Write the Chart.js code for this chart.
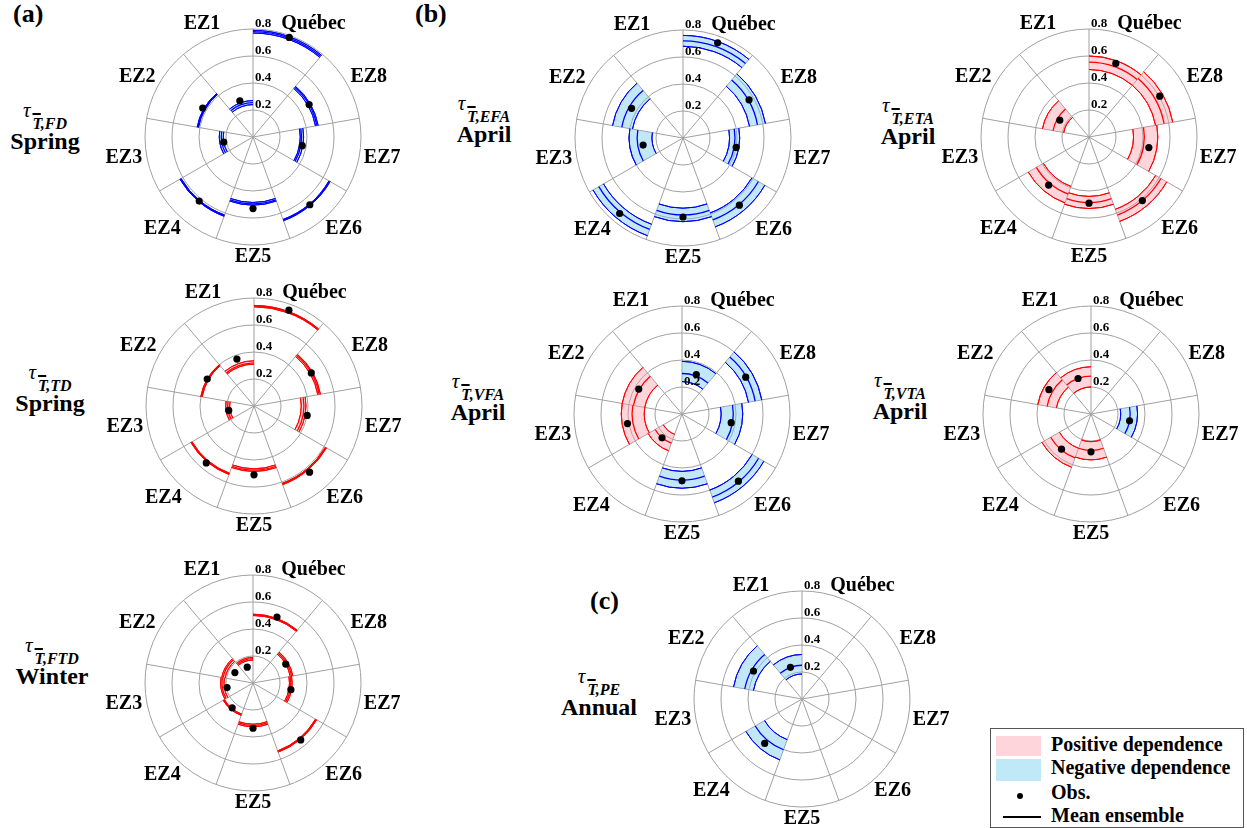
<!DOCTYPE html>
<html>
<head>
<meta charset="utf-8">
<script src="https://cdn.jsdelivr.net/npm/chart.js@4.4.1/dist/chart.umd.min.js"></script>
<style>
  body { margin: 0; background: #fff; width: 1247px; height: 828px; position: relative; overflow: hidden;
         font-family: 'Liberation Serif', 'Times New Roman', serif; color: #000; }
  canvas { position: absolute; }
  .tag { position: absolute; font-size: 26px; line-height: 26px; font-weight: bold; }
  .ttl { position: absolute; transform: translateX(-50%); text-align: center; white-space: nowrap; }
  .l1 { font-size: 20px; line-height: 24px; height: 24px; }
  .tau { font-style: italic; font-size: 21px; line-height: 0; vertical-align: 6px; }
  .sub { font-weight: bold; font-style: italic; font-size: 16px; line-height: 0; vertical-align: -6px; margin-left: 2px; }
  .ov { text-decoration: overline; text-decoration-thickness: 1.5px; }
  .l2 { font-size: 24px; font-weight: bold; line-height: 26px; }
  #legend { position: absolute; left: 990px; top: 728px; width: 252px; height: 98px; border: 1px solid #555; }
  #legend div { position: absolute; }
  #legend .txt { left: 60px; font-size: 20px; line-height: 20px; font-weight: bold; white-space: nowrap; }
</style>
</head>
<body>
<div class="tag" style="left:13px;top:1px">(a)</div>
<div class="tag" style="left:415px;top:1px">(b)</div>
<div class="tag" style="left:590px;top:588px">(c)</div>

<div class="ttl" style="left:45px;top:104px"><div class="l1"><span class="tau">τ</span><span class="sub"><span class="ov">T</span>,FD</span></div><div class="l2">Spring</div></div>
<div class="ttl" style="left:50px;top:366px"><div class="l1"><span class="tau">τ</span><span class="sub"><span class="ov">T</span>,TD</span></div><div class="l2">Spring</div></div>
<div class="ttl" style="left:52px;top:639px"><div class="l1"><span class="tau">τ</span><span class="sub"><span class="ov">T</span>,FTD</span></div><div class="l2">Winter</div></div>
<div class="ttl" style="left:484px;top:97px"><div class="l1"><span class="tau">τ</span><span class="sub"><span class="ov">T</span>,EFA</span></div><div class="l2">April</div></div>
<div class="ttl" style="left:908px;top:99px"><div class="l1"><span class="tau">τ</span><span class="sub"><span class="ov">T</span>,ETA</span></div><div class="l2">April</div></div>
<div class="ttl" style="left:478px;top:375px"><div class="l1"><span class="tau">τ</span><span class="sub"><span class="ov">T</span>,VFA</span></div><div class="l2">April</div></div>
<div class="ttl" style="left:900px;top:374px"><div class="l1"><span class="tau">τ</span><span class="sub"><span class="ov">T</span>,VTA</span></div><div class="l2">April</div></div>
<div class="ttl" style="left:599px;top:670px"><div class="l1"><span class="tau">τ</span><span class="sub"><span class="ov">T</span>,PE</span></div><div class="l2">Annual</div></div>

<canvas id="fd" width="320" height="290" style="left:93px;top:-8px"></canvas>
<canvas id="td" width="320" height="290" style="left:94px;top:261px"></canvas>
<canvas id="ftd" width="320" height="290" style="left:93px;top:538px"></canvas>
<canvas id="efa" width="320" height="290" style="left:523px;top:-7px"></canvas>
<canvas id="eta" width="320" height="290" style="left:929px;top:-8px"></canvas>
<canvas id="vfa" width="320" height="290" style="left:522px;top:269px"></canvas>
<canvas id="vta" width="320" height="290" style="left:931px;top:269px"></canvas>
<canvas id="pe" width="320" height="290" style="left:642px;top:554px"></canvas>

<div id="legend">
  <div style="left:5px;top:7px;width:45px;height:20px;background:#ffd5dc"></div>
  <div style="left:5px;top:30px;width:45px;height:22px;background:#c0e9f8"></div>
  <div style="left:26px;top:64px;width:6px;height:6px;border-radius:50%;background:#000"></div>
  <div style="left:12px;top:87px;width:38px;height:2px;background:#000"></div>
  <div class="txt" style="top:5px">Positive dependence</div>
  <div class="txt" style="top:28px">Negative dependence</div>
  <div class="txt" style="top:53px">Obs.</div>
  <div class="txt" style="top:76px">Mean ensemble</div>
</div>

<script>
// sectors, clockwise from the top
const zones = ['Québec', 'EZ8', 'EZ7', 'EZ6', 'EZ5', 'EZ4', 'EZ3', 'EZ2', 'EZ1'];
const tickValues = [0.2, 0.4, 0.6, 0.8];

// Kendall tau, signed (negative = negative dependence); null = not significant
// (a) FD, spring
const fdLow  = [-0.77, -0.47, -0.35, -0.65, -0.485, -0.615, -0.22, -0.41, -0.24];
const fdHigh = [-0.79, -0.49, -0.375, -0.66, -0.505, -0.625, -0.25, -0.42, -0.27];
const fdMean = [-0.78, -0.48, -0.36, -0.655, -0.495, -0.62, -0.235, -0.415, -0.255];
const fdObs  = [-0.785, -0.48, -0.37, -0.655, -0.53, -0.62, -0.22, -0.43, -0.285];
// (a) TD, spring
const tdLow  = [0.735, 0.48, 0.35, 0.61, 0.465, 0.53, 0.18, 0.39, 0.31];
const tdHigh = [0.745, 0.50, 0.385, 0.62, 0.485, 0.54, 0.21, 0.40, 0.335];
const tdMean = [0.74, 0.49, 0.37, 0.615, 0.475, 0.535, 0.195, 0.395, 0.32];
const tdObs  = [0.755, 0.49, 0.40, 0.64, 0.51, 0.55, 0.19, 0.40, 0.37];
// (a) FTD, winter
const ftdLow  = [0.50, 0.28, 0.27, 0.535, 0.305, 0.245, 0.215, 0.21, 0.17];
const ftdHigh = [0.51, 0.30, 0.29, 0.545, 0.325, 0.255, 0.24, 0.235, 0.19];
const ftdMean = [0.505, 0.29, 0.28, 0.54, 0.315, 0.25, 0.23, 0.225, 0.18];
const ftdObs  = [0.52, 0.28, 0.285, 0.55, 0.335, 0.24, 0.195, 0.155, 0.125];
// (b) EFA, April
const efaLow  = [-0.68, -0.50, -0.345, -0.59, -0.52, -0.68, -0.23, -0.38, null];
const efaHigh = [-0.76, -0.62, -0.42, -0.70, -0.62, -0.77, -0.40, -0.53, null];
const efaMean = [-0.72, -0.56, -0.385, -0.645, -0.57, -0.72, -0.34, -0.46, null];
const efaObs  = [-0.75, -0.565, -0.40, -0.65, -0.585, -0.73, -0.30, -0.44, null];
// (b) ETA, April
const etaLow  = [0.50, 0.50, 0.33, 0.57, 0.44, 0.39, null, 0.19, null];
const etaHigh = [0.60, 0.63, 0.51, 0.665, 0.53, 0.52, null, 0.35, null];
const etaMean = [0.555, 0.565, 0.41, 0.615, 0.485, 0.45, null, 0.27, null];
const etaObs  = [0.58, 0.605, 0.45, 0.615, 0.49, 0.465, null, 0.25, null];
// (b) VFA, April
const vfaLow  = [-0.24, -0.50, -0.29, -0.60, -0.425, 0.16, 0.28, 0.28, null];
const vfaHigh = [-0.39, -0.60, -0.45, -0.70, -0.55, 0.29, 0.45, 0.45, null];
const vfaMean = [-0.30, -0.55, -0.38, -0.655, -0.49, 0.23, 0.37, 0.365, null];
const vfaObs  = [-0.31, -0.545, -0.37, -0.65, -0.495, 0.23, 0.41, 0.37, null];
// (b) VTA, April
const vtaLow  = [null, null, -0.22, null, 0.205, 0.27, null, 0.26, 0.20];
const vtaHigh = [null, null, -0.345, null, 0.34, 0.42, null, 0.40, 0.35];
const vtaMean = [null, null, -0.29, null, 0.27, 0.345, null, 0.33, 0.28];
const vtaObs  = [null, null, -0.29, null, 0.28, 0.34, null, 0.36, 0.28];
// (c) PE, annual
const peLow  = [null, null, null, null, null, -0.32, null, -0.365, -0.185];
const peHigh = [null, null, null, null, null, -0.48, null, -0.515, -0.33];
const peMean = [null, null, null, null, null, -0.40, null, -0.43, -0.25];
const peObs  = [null, null, null, null, null, -0.43, null, -0.415, -0.25];

// polar area arcs with an inner radius taken from dataset.inner
class BandController extends Chart.PolarAreaController {
  updateElement(el, i, props, mode) {
    if (i !== undefined && props) {
      const inner = this.getDataset().inner;
      props.innerRadius = this._cachedMeta.rScale.getDistanceFromCenterForValue(inner[i]);
    }
    super.updateElement(el, i, props, mode);
  }
}
BandController.id = 'band';

// radar points moved to the middle of each sector
class ObsController extends Chart.RadarController {
  updateElement(el, i, props, mode) {
    if (i !== undefined && props) {
      const p = this._cachedMeta.rScale.getPointPositionForValue(i + 0.5, this.getParsed(i).r);
      props.x = p.x;
      props.y = p.y;
    }
    super.updateElement(el, i, props, mode);
  }
}
ObsController.id = 'obs';
Chart.register(BandController, ObsController);

// zone names around the circle and radial tick labels
const polarText = {
  id: 'polarText',
  afterDatasetsDraw(chart) {
    const r = chart.scales.r;
    const ctx = chart.ctx;
    ctx.save();
    ctx.fillStyle = '#000';
    ctx.font = 'bold 13px "Liberation Serif"';
    ctx.textAlign = 'left';
    ctx.textBaseline = 'alphabetic';
    tickValues.forEach(v => {
      ctx.fillText(v.toFixed(1), r.xCenter + 2, r.yCenter - r.getDistanceFromCenterForValue(v) - 2);
    });
    ctx.font = 'bold 20px "Liberation Serif"';
    ctx.textAlign = 'center';
    ctx.textBaseline = 'middle';
    zones.forEach((z, i) => {
      const p = r.getPointPosition(i + 0.5, r.drawingArea + 4.5);
      const a = p.angle + Math.PI / 2;
      const s = Math.sin(a), c = Math.cos(a);
      const w = ctx.measureText(z).width;
      const f = Math.min(1, Math.abs(s) * 2);
      ctx.fillText(z, p.x + Math.sign(s) * f * w / 2, p.y - c * 7.5);
    });
    ctx.restore();
  }
};

const POS_FILL = 'rgba(255,150,168,0.4)';
const NEG_FILL = 'rgba(110,200,238,0.42)';
const POS_LINE = '#ff0000';
const NEG_LINE = '#0000ff';

const abs = arr => arr.map(v => v == null ? null : Math.abs(v));
const signColors = (mean, pos, neg) => mean.map(v => v == null ? 'rgba(0,0,0,0)' : (v > 0 ? pos : neg));

function drawPanel(id, low, high, mean, obs) {
  const lo = abs(low), hi = abs(high);
  const inner = lo.map((v, i) => v == null ? null : Math.min(v, hi[i]));
  const outer = lo.map((v, i) => v == null ? null : Math.max(v, hi[i]));
  const lineCols = signColors(mean, POS_LINE, NEG_LINE);
  const edge = (vals, w, order) => ({
    type: 'band', data: vals.slice(), inner: vals.slice(),
    backgroundColor: 'rgba(0,0,0,0)', borderColor: lineCols, borderWidth: w, order: order
  });

  new Chart(document.getElementById(id), {
    type: 'polarArea',
    data: {
      labels: zones,
      datasets: [
        { type: 'obs', data: abs(obs), showLine: false, fill: false, pointRadius: 3.6,
          pointBackgroundColor: '#000', pointBorderWidth: 0, order: 0 },
        edge(abs(mean), 1.3, 1),
        edge(inner, 1, 2),
        edge(outer, 1, 2),
        { type: 'band', data: outer.slice(), inner: inner.slice(),
          backgroundColor: signColors(mean, POS_FILL, NEG_FILL), borderWidth: 0, order: 3 }
      ]
    },
    options: {
      responsive: false,
      animation: false,
      events: [],
      layout: { padding: { left: 52, right: 52, top: 37, bottom: 37 } },
      plugins: { legend: { display: false }, tooltip: { enabled: false } },
      scales: {
        r: {
          min: 0, max: 0.8, startAngle: 0,
          ticks: { display: false, stepSize: 0.2 },
          grid: { circular: true, color: '#a0a0a0', lineWidth: 1 },
          angleLines: { display: true, color: '#a0a0a0', lineWidth: 1 },
          pointLabels: { display: false }
        }
      }
    },
    plugins: [polarText]
  });
}

drawPanel('fd', fdLow, fdHigh, fdMean, fdObs);
drawPanel('td', tdLow, tdHigh, tdMean, tdObs);
drawPanel('ftd', ftdLow, ftdHigh, ftdMean, ftdObs);
drawPanel('efa', efaLow, efaHigh, efaMean, efaObs);
drawPanel('eta', etaLow, etaHigh, etaMean, etaObs);
drawPanel('vfa', vfaLow, vfaHigh, vfaMean, vfaObs);
drawPanel('vta', vtaLow, vtaHigh, vtaMean, vtaObs);
drawPanel('pe', peLow, peHigh, peMean, peObs);
</script>
</body>
</html>
